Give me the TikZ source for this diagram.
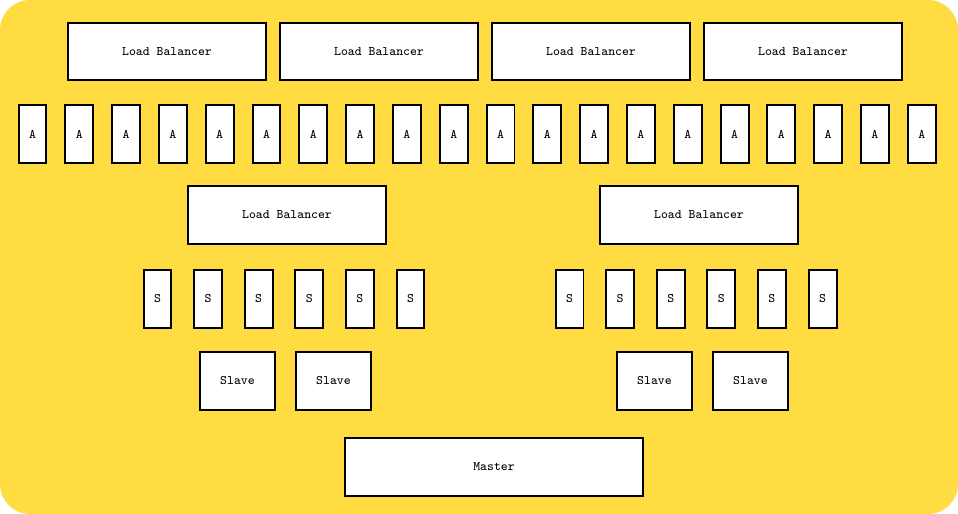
\documentclass[tikz,border=0pt]{standalone}
\definecolor{bgyellow}{HTML}{FFDC42}
\begin{document}
\begin{tikzpicture}[x=0.02cm, y=-0.02cm]
    % Stili
    \tikzset{
        box/.style={rectangle, draw=black, fill=white, line width=0.04cm, inner sep=0pt, font=\fontsize{7.4}{9}\selectfont\ttfamily, text centered},
        lbbox/.style={box, minimum width=3.96cm, minimum height=1.16cm},
        appbox/.style={box, minimum width=0.56cm, minimum height=1.16cm},
        slavebox/.style={box, minimum width=1.52cm, minimum height=1.16cm},
        masterbox/.style={box, minimum width=5.96cm, minimum height=1.16cm}
    }

    % Sfondo
    \fill[bgyellow, rounded corners=0.6cm] (0,0) rectangle (958,514);

    % Load balancer in alto
    \node[lbbox] (lb1) at (167,51.5) {Load Balancer};
    \node[lbbox] (lb2) at (379,51.5) {Load Balancer};
    \node[lbbox] (lb3) at (591,51.5) {Load Balancer};
    \node[lbbox] (lb4) at (803,51.5) {Load Balancer};

    % Application server
    \foreach \i in {1,...,20}
        \node[appbox] (a\i) at ({32.5+46.8*(\i-1)},134) {A};

    % Load balancer intermedi
    \node[lbbox] (lbl) at (287,215) {Load Balancer};
    \node[lbbox] (lbr) at (699,215) {Load Balancer};

    % Server S
    \foreach \i in {1,...,6} {
        \node[appbox] (sl\i) at ({157.5+50.6*(\i-1)},299) {S};
        \node[appbox] (sr\i) at ({569.5+50.6*(\i-1)},299) {S};
    }

    % Slave
    \node[slavebox] (slave1) at (237.5,381) {Slave};
    \node[slavebox] (slave2) at (333.5,381) {Slave};
    \node[slavebox] (slave3) at (654.5,381) {Slave};
    \node[slavebox] (slave4) at (750.5,381) {Slave};

    % Master
    \node[masterbox] (master) at (494,467) {Master};
\end{tikzpicture}
\end{document}
